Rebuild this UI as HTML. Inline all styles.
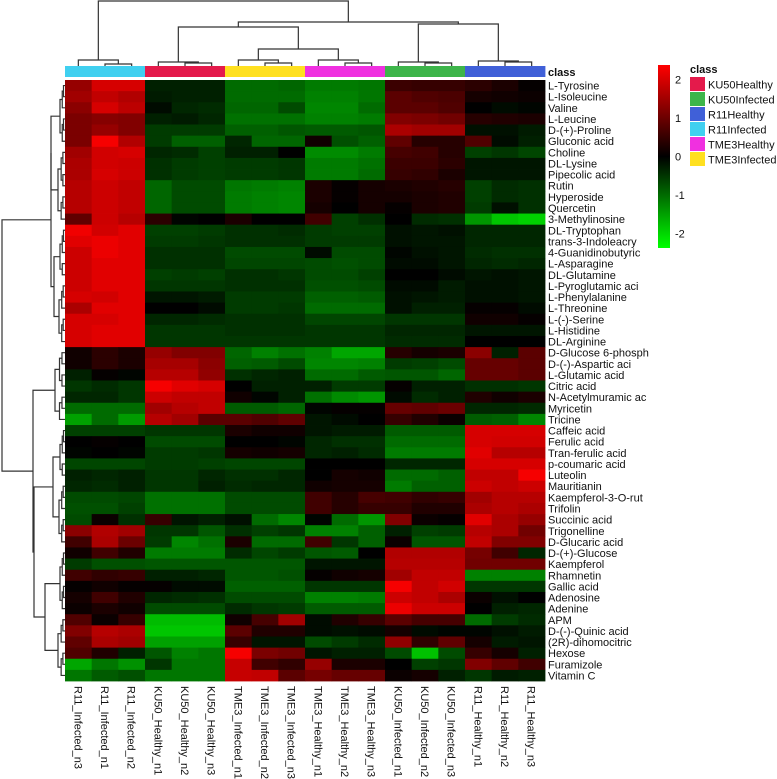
<!DOCTYPE html>
<html><head><meta charset="utf-8"><style>
html,body{margin:0;padding:0;background:#fff;}
svg{display:block;font-family:"Liberation Sans",sans-serif;}
</style></head><body>
<svg id="chart" width="777" height="779" viewBox="0 0 777 779"></svg>
<script>
const rowNames=["L-Tyrosine","L-Isoleucine","Valine","L-Leucine","D-(+)-Proline","Gluconic acid","Choline","DL-Lysine","Pipecolic acid","Rutin","Hyperoside","Quercetin","3-Methylinosine","DL-Tryptophan","trans-3-Indoleacry","4-Guanidinobutyric","L-Asparagine","DL-Glutamine","L-Pyroglutamic aci","L-Phenylalanine","L-Threonine","L-(-)-Serine","L-Histidine","DL-Arginine","D-Glucose 6-phosph","D-(-)-Aspartic aci","L-Glutamic acid","Citric acid","N-Acetylmuramic ac","Myricetin","Tricine","Caffeic acid","Ferulic acid","Tran-ferulic acid","p-coumaric acid","Luteolin","Mauritianin","Kaempferol-3-O-rut","Trifolin","Succinic acid","Trigonelline","D-Glucaric acid","D-(+)-Glucose","Kaempferol","Rhamnetin","Gallic acid","Adenosine","Adenine","APM","D-(-)-Quinic acid","(2R)-dihomocitric","Hexose","Furamizole","Vitamin C"];
const colNames=["R11_Infected_n3","R11_Infected_n1","R11_Infected_n2","KU50_Healthy_n1","KU50_Healthy_n2","KU50_Healthy_n3","TME3_Infected_n1","TME3_Infected_n2","TME3_Infected_n3","TME3_Healthy_n1","TME3_Healthy_n2","TME3_Healthy_n3","KU50_Infected_n1","KU50_Infected_n2","KU50_Infected_n3","R11_Healthy_n1","R11_Healthy_n2","R11_Healthy_n3"];
const colClass=["R11Infected","R11Infected","R11Infected","KU50Healthy","KU50Healthy","KU50Healthy","TME3Infected","TME3Infected","TME3Infected","TME3Healthy","TME3Healthy","TME3Healthy","KU50Infected","KU50Infected","KU50Infected","R11Healthy","R11Healthy","R11Healthy"];
const classNames=["KU50Healthy","KU50Infected","R11Healthy","R11Infected","TME3Healthy","TME3Infected"];
const classColors=["#E41A4B","#3DB54A","#4060D8","#40D0F0","#F030E0","#FFE020"];
const colorTicks=[2,1,0,-1,-2];
const values=[
[1.4,2.0,2.0,-0.3,-0.3,-0.3,-1,-1,-0.95,-1.15,-1.15,-1.1,0.55,0.5,0.5,0.4,0.25,0.05],
[1.5,1.8,1.65,-0.25,-0.3,-0.3,-1.0,-1.0,-1.0,-1.2,-1.2,-1.1,0.85,0.75,0.7,0.2,0.15,0.1],
[1.3,2.0,1.75,-0.1,-0.35,-0.4,-0.95,-0.95,-0.7,-1.25,-1.25,-1.0,0.85,0.85,0.75,0.0,-0.1,-0.05],
[1.15,1.25,1.2,-0.3,-0.25,-0.35,-1.05,-1.05,-1.05,-1.2,-1.2,-1.15,1.2,1.15,1.05,0.35,0.3,0.25],
[1.15,1.4,1.2,-0.55,-0.55,-0.55,-0.9,-0.9,-0.8,-0.85,-0.85,-0.8,1.6,1.5,1.5,-0.15,-0.15,-0.25],
[1.15,2.3,1.65,-0.55,-0.9,-0.9,-0.35,-0.95,-0.95,0.15,-0.75,-0.9,0.9,0.35,0.35,0.75,-0.1,-0.3],
[1.5,1.95,2.0,-0.35,-0.4,-0.6,-0.3,-0.3,0.0,-1.3,-1.3,-1.15,0.65,0.6,0.35,-0.6,-0.5,-0.65],
[1.6,1.95,1.9,-0.45,-0.55,-0.6,-0.55,-0.55,-0.5,-1.15,-1.15,-1.05,0.55,0.55,0.4,-0.2,-0.2,-0.2],
[1.6,2.0,1.9,-0.45,-0.55,-0.6,-0.55,-0.55,-0.5,-1.15,-1.15,-1.0,0.5,0.45,0.25,-0.2,-0.2,-0.2],
[1.7,1.9,1.8,-0.95,-0.7,-0.7,-1.1,-1.15,-1.2,0.25,0.05,0.2,0.25,0.3,0.35,-0.6,-0.4,-0.45],
[1.7,1.9,1.8,-0.95,-0.7,-0.7,-1.15,-1.2,-1.25,0.25,0.05,0.2,0.2,0.25,0.3,-0.6,-0.4,-0.45],
[1.7,1.9,1.8,-0.95,-0.7,-0.7,-1.15,-1.2,-1.25,0.2,0.0,0.2,0.05,0.25,0.3,-0.55,-0.15,-0.45],
[0.9,1.9,1.7,0.4,-0.05,0.0,0.25,0.0,0.0,0.6,-0.6,-0.45,0.0,-0.4,-0.45,-1.4,-1.85,-1.95],
[2.25,1.95,2.1,-0.6,-0.6,-0.55,-0.45,-0.45,-0.4,-0.55,-0.6,-0.6,-0.15,-0.2,-0.15,-0.35,-0.35,-0.35],
[2.1,2.2,2.1,-0.55,-0.55,-0.5,-0.45,-0.45,-0.45,-0.55,-0.55,-0.55,-0.15,-0.2,-0.2,-0.35,-0.35,-0.35],
[1.9,2.2,2.1,-0.45,-0.45,-0.45,-0.7,-0.7,-0.7,-0.1,-0.7,-0.7,-0.05,-0.15,-0.2,-0.4,-0.45,-0.45],
[1.9,2.1,2.1,-0.45,-0.45,-0.45,-0.65,-0.65,-0.65,-0.7,-0.75,-0.7,-0.1,-0.1,-0.2,-0.35,-0.4,-0.35],
[1.9,2.1,2.1,-0.6,-0.55,-0.6,-0.45,-0.45,-0.5,-0.7,-0.7,-0.6,0.0,0.0,-0.1,-0.2,-0.15,-0.2],
[1.9,2.1,2.1,-0.5,-0.5,-0.5,-0.45,-0.45,-0.45,-0.75,-0.75,-0.7,-0.1,-0.1,-0.25,-0.15,-0.15,-0.2],
[2.0,1.95,2.1,-0.2,-0.2,-0.25,-0.55,-0.55,-0.55,-0.9,-0.9,-0.85,-0.15,-0.2,-0.25,-0.15,-0.15,-0.2],
[1.6,2.1,2.1,0.0,0.0,-0.1,-0.55,-0.55,-0.5,-1.0,-1.0,-1.0,-0.15,-0.3,-0.3,0.05,0.05,-0.1],
[2.0,2.0,2.1,-0.35,-0.35,-0.4,-0.45,-0.45,-0.45,-0.65,-0.65,-0.65,-0.5,-0.5,-0.5,0.15,0.15,0.05],
[2.0,2.1,2.1,-0.5,-0.5,-0.5,-0.45,-0.45,-0.45,-0.5,-0.5,-0.5,-0.35,-0.35,-0.35,-0.2,-0.2,-0.2],
[2.0,2.1,2.1,-0.5,-0.5,-0.5,-0.5,-0.5,-0.5,-0.5,-0.5,-0.5,-0.4,-0.4,-0.4,0.0,0.0,0.0],
[0.15,0.4,0.25,1.4,1.2,1.2,-0.95,-1.2,-1.05,-1.2,-1.55,-1.55,0.35,0.2,0.25,1.3,-0.3,0.85],
[0.15,0.4,0.25,1.55,1.55,1.3,-0.9,-0.85,-0.7,-1.25,-1.25,-1.2,-0.55,-0.6,-0.7,0.95,0.95,0.85],
[-0.3,0.05,-0.05,1.7,1.7,1.35,-0.45,-0.35,-0.3,-1.0,-1.0,-0.85,-0.8,-0.8,-0.95,0.95,0.95,0.85],
[-0.5,-0.4,-0.5,2.3,2.1,2.0,0.0,-0.3,-0.3,-0.3,-0.55,-0.55,0.05,-0.3,-0.3,-0.45,-0.45,-0.5],
[-0.35,-0.35,-0.5,1.9,1.8,1.8,0.15,-0.05,-0.3,-1.05,-1.3,-1.4,-0.1,-0.4,-0.3,0.3,0.15,0.25],
[-1.0,-1.0,-1.0,1.5,1.7,1.8,-0.85,-0.85,-0.95,-0.05,0.05,0.05,0.95,0.9,1.0,-0.35,-0.35,-0.4],
[-1.5,-1.0,-1.45,1.7,1.5,0.85,0.85,0.75,0.9,-0.2,-0.1,0.0,0.5,0.3,0.1,-0.85,-0.9,-1.25],
[-0.6,-0.6,-0.6,-0.5,-0.5,-0.5,0.25,0.15,0.15,-0.2,-0.25,-0.25,-0.85,-0.85,-0.85,2.0,2.0,2.0],
[0.0,0.05,0.0,-0.7,-0.7,-0.7,0.0,0.0,-0.05,-0.35,-0.45,-0.45,-1.0,-1.0,-1.0,2.0,1.95,1.95],
[-0.05,0.0,-0.05,-0.55,-0.55,-0.5,0.2,0.15,0.2,-0.35,-0.3,-0.4,-1.15,-1.15,-1.15,2.1,1.7,1.7],
[-0.65,-0.65,-0.65,-0.55,-0.55,-0.6,-0.65,-0.65,-0.65,0.0,0.0,0.0,-0.35,-0.35,-0.35,2.0,2.0,2.0],
[-0.3,-0.35,-0.3,-0.5,-0.5,-0.35,-0.45,-0.45,-0.35,0.0,0.2,0.15,-1.0,-1.0,-0.9,1.8,1.8,2.3],
[-0.35,-0.4,-0.3,-0.5,-0.5,-0.3,-0.4,-0.35,-0.35,0.15,0.2,0.2,-1.15,-0.9,-0.9,1.9,1.8,1.9],
[-0.7,-0.7,-0.65,-1.05,-1.05,-1.05,-0.7,-0.7,-0.7,0.6,0.35,0.65,0.6,0.45,0.5,1.5,1.7,1.7],
[-0.75,-0.75,-0.6,-1.05,-1.05,-1.05,-0.7,-0.7,-0.7,0.6,0.35,0.5,0.5,0.3,0.3,1.6,1.7,1.6],
[-0.7,0.1,-0.45,0.5,-0.2,-0.3,-0.15,-1.0,-1.25,-0.05,-1.0,-1.4,1.2,0.1,0.05,2.1,1.6,1.4],
[1.3,1.65,1.5,-0.5,-0.5,-0.8,-0.45,-0.6,-0.5,-1.2,-1.2,-0.9,-0.3,-0.6,-0.55,1.7,1.6,1.05],
[0.6,1.6,1.0,-0.55,-1.25,-1.05,0.25,-1.0,-1.0,0.6,-0.5,-0.9,0.1,-0.8,-0.8,1.8,1.2,1.2],
[0.15,0.6,0.3,-1.15,-1.15,-1.15,-0.4,-0.65,-0.55,-0.8,-0.85,0.0,1.65,1.65,1.65,1.1,0.6,-0.35],
[-0.55,-0.75,-0.75,-0.8,-0.8,-0.8,-0.8,-0.8,-0.8,-0.2,-0.2,-0.2,1.7,1.7,1.7,1.05,1.05,1.05],
[0.6,0.45,0.5,-0.3,-0.3,-0.35,-0.8,-0.8,-0.75,0.05,0.15,0.2,1.5,1.8,1.8,-1.2,-1.2,-1.2],
[0.05,0.15,0.05,0.05,-0.1,-0.1,-0.9,-0.9,-0.9,-0.5,-0.5,-0.5,2.3,1.8,1.95,-0.5,-0.5,-0.5],
[0.2,0.6,0.3,-0.35,-0.4,-0.45,-0.7,-0.7,-0.7,-1.2,-1.2,-1.15,1.9,1.8,1.6,0.1,-0.15,0.0],
[0.1,0.25,0.15,-0.7,-0.7,-0.7,-0.4,-0.5,-0.55,-0.85,-0.85,-0.85,2.2,1.9,1.9,0.0,-0.3,-0.35],
[0.75,0.1,0.5,-1.75,-1.75,-1.75,0.15,0.65,1.5,-0.1,0.3,0.5,0.85,0.65,0.65,-1.0,-0.55,-0.4],
[1.2,1.7,1.6,-1.85,-1.85,-1.85,0.85,0.3,0.3,-0.1,-0.15,-0.1,0.2,-0.1,-0.05,-0.05,-0.15,-0.25],
[0.9,1.6,1.5,-1.5,-1.5,-1.5,0.5,-0.2,-0.2,-0.7,-0.55,-0.4,1.35,0.45,0.9,0.2,-0.25,-0.2],
[0.75,0.3,-0.3,-0.8,-1.2,-1.1,2.3,1.15,1.05,-0.2,-0.3,-0.3,-0.7,-1.8,-0.7,0.5,0.2,-0.3],
[-1.55,-1.1,-1.35,-0.5,-1.1,-1.1,1.85,0.6,0.45,1.4,0.25,0.25,0.0,-0.6,-0.5,1.2,0.9,0.6],
[-1.1,-0.85,-0.75,-1.1,-1.1,-1.1,1.85,1.8,0.85,1.1,0.95,0.95,0.1,0.2,-0.3,-0.5,-0.25,-0.3]
];

const NS="http://www.w3.org/2000/svg";
const svg=document.getElementById('chart');
function mk(tag,attrs,parent){const e=document.createElementNS(NS,tag);for(const k in attrs)e.setAttribute(k,attrs[k]);(parent||svg).appendChild(e);return e;}
const HX0=65,HX1=545,HY0=80,HY1=681;
const cw=(HX1-HX0)/colNames.length, rh=(HY1-HY0)/rowNames.length;
const xPos=i=>HX0+i*cw, yPos=j=>HY0+j*rh;
const VMAX=2.38;
function color(v){const t=Math.min(1,Math.abs(v)/VMAX);const c=Math.round(t*255);return v>=0?`rgb(${c},0,0)`:`rgb(0,${c},0)`;}

const gCells=mk('g',{});


values.forEach((row,j)=>row.forEach((v,i)=>{
  const r=mk('rect',{x:xPos(i),y:yPos(j),width:cw+0.4,height:rh+0.4,fill:color(v)},gCells);
  
  
}));

colClass.forEach((c,i)=>{
  const r=mk('rect',{x:xPos(i),y:66,width:cw+0.4,height:11,fill:classColors[classNames.indexOf(c)]});
  
  
});
const ct=mk('text',{x:548,y:76,'font-size':11,'font-weight':'bold',fill:'#111'});ct.textContent='class';



rowNames.forEach((n,j)=>{
  const t=mk('text',{x:548,y:yPos(j)+rh/2+4,'font-size':11,fill:'#111'});t.textContent=n;
  
  
});
colNames.forEach((n,i)=>{
  const cx=xPos(i)+cw/2-4, y=686;
  const t=mk('text',{x:cx,y:y,'font-size':11,fill:'#111',transform:`rotate(90 ${cx} ${y})`});t.textContent=n;
  
  
});

const dg=mk('g',{stroke:'#333','stroke-width':1.2,fill:'none'});


function colNode(n){ if(typeof n==='number') return {c:xPos(n)+cw/2,h:66};
  const a=colNode(n[0]),b=colNode(n[1]);const h=n[2];
  mk('path',{d:`M${a.c},${a.h}V${h}H${b.c}V${b.h}`},dg);return {c:(a.c+b.c)/2,h:h};}
const colTree=[[0,[1,2,64],60],[[[3,[4,5,63],62],[[6,[7,8,63],60],[9,[10,11,63],60],49],27],[[12,[13,14,63],62],[15,[16,17,62],61],24],22],1];
colNode(colTree);
function rowNode(n){ if(typeof n==='number') return {c:yPos(n)+rh/2,h:65};
  const a=rowNode(n[0]),b=rowNode(n[1]);const h=n[2];
  mk('path',{d:`M${a.h},${a.c}H${h}V${b.c}H${b.h}`},dg);return {c:(a.c+b.c)/2,h:h};}
function bal(lo,hi,h){ if(lo===hi) return lo; const m=Math.floor((lo+hi)/2);
  return [bal(lo,m,h+(65-h)*0.45),bal(m+1,hi,h+(65-h)*0.45),h];}
const rowTree=[
  [[bal(0,5,60),bal(6,12,58),51],[bal(13,17,60),bal(18,23,59),54],51],
  [bal(24,30,55),[[bal(31,35,60),bal(36,41,59),53],[bal(42,47,60),bal(48,53,58),45],34],33],
  2];
rowNode(rowTree);

const defs=mk('defs',{});
const lg=mk('linearGradient',{id:'ck',x1:0,y1:0,x2:0,y2:1},defs);
[[0,'#ff0000'],[0.5,'#000000'],[1,'#00ff00']].forEach(s=>mk('stop',{offset:s[0],'stop-color':s[1]},lg));
const kb=mk('rect',{x:658,y:65,width:12,height:183,fill:'url(#ck)'});


const kScale=v=>156.5-v*38.5;
colorTicks.forEach(v=>{
  const t=mk('text',{x:675,y:kScale(v)+4,'font-size':11,fill:'#111'});t.textContent=String(v);
  
  
});
const lt=mk('text',{x:690,y:73,'font-size':11,'font-weight':'bold',fill:'#111'});lt.textContent='class';


classNames.forEach((n,k)=>{
  const g=mk('g',{});
  
  
  mk('rect',{x:690,y:77+k*15,width:15,height:14,fill:classColors[k]},g);
  const t=mk('text',{x:708,y:88.5+k*15,'font-size':11,fill:'#111'},g);t.textContent=n;
});
</script>
</body></html>
